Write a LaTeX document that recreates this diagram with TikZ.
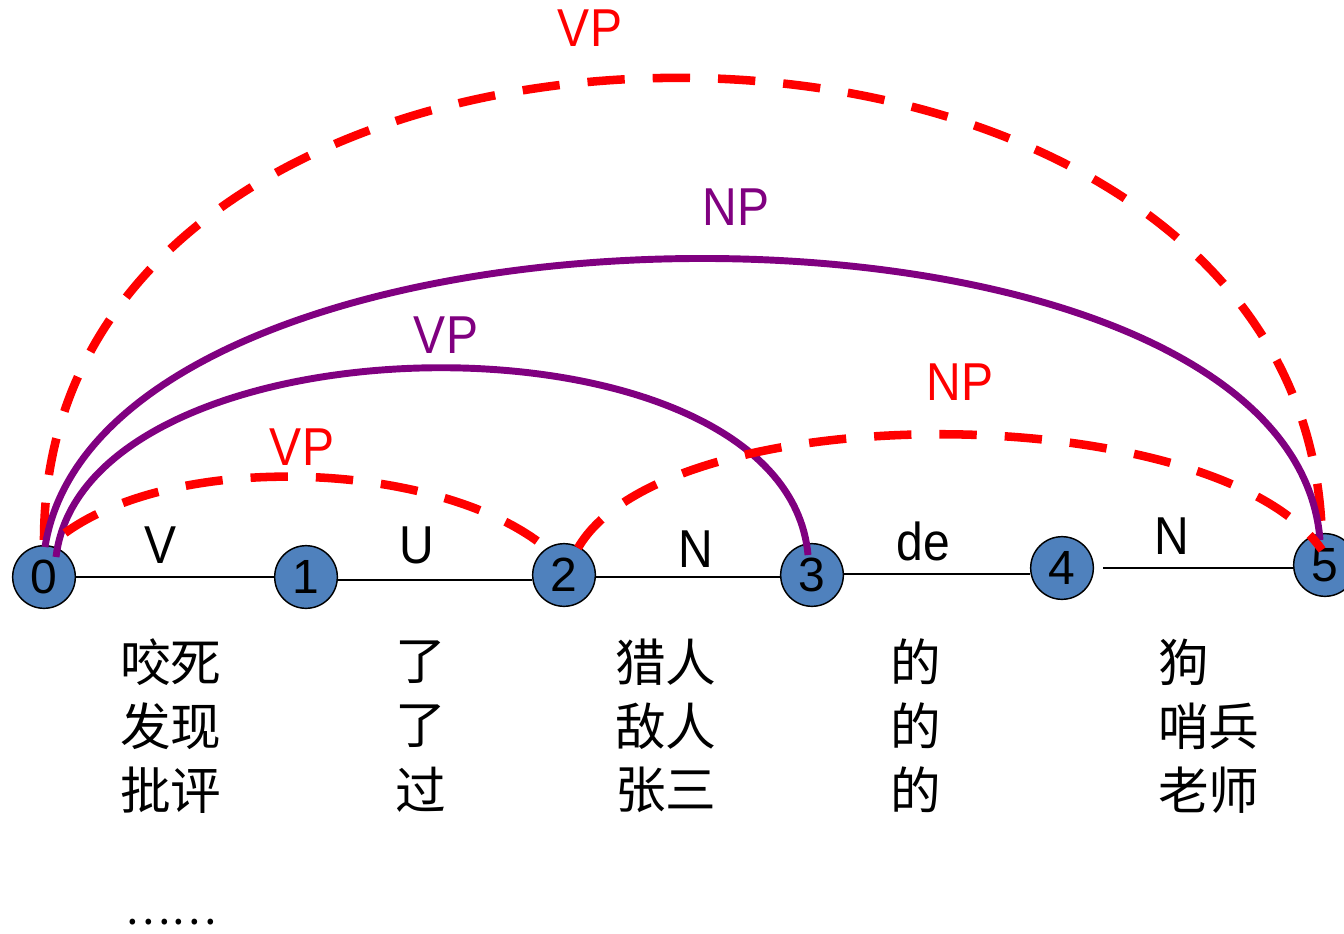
\documentclass[tikz,border=0pt]{standalone}
\usepackage{fontspec}
\usetikzlibrary{calc}
\newfontfamily\labfont[FakeStretch=0.9]{Liberation Sans}
\newfontfamily\numfont{Liberation Sans}
\newfontfamily\cjk{Noto Sans CJK SC}
\definecolor{nodeblue}{HTML}{4F81BD}
\definecolor{arcpurple}{HTML}{800080}
\begin{document}
\begin{tikzpicture}[x=0.75pt,y=-0.75pt,
  state/.style={circle,draw=black,line width=1.1pt,fill=nodeblue,minimum size=47pt,inner sep=0pt,
    font=\numfont\fontsize{36}{40}\selectfont},
  edge/.style={draw=black,line width=2pt},
  edgelabel/.style={anchor=base,inner sep=0pt,font=\labfont\fontsize{40}{44}\selectfont},
  redarc/.style={draw=red,line width=6.4pt,dash pattern=on 28pt off 21pt},
  purplearc/.style={draw=arcpurple,line width=5.2pt},
  redlabel/.style={anchor=base,inner sep=0pt,text=red,font=\labfont\fontsize{40}{44}\selectfont},
  purplelabel/.style={anchor=base,inner sep=0pt,text=arcpurple,font=\labfont\fontsize{40}{44}\selectfont},
  word/.style={anchor=west,inner sep=0pt,font=\cjk\fontsize{38}{46}\selectfont}]
\useasboundingbox (0,0) rectangle (1344,934);

% chart positions
\coordinate (p0) at (44,577);
\coordinate (p1) at (306,577);
\coordinate (p2) at (564,575);
\coordinate (p3) at (812,575);
\coordinate (p4) at (1062,568);
\coordinate (p5) at (1325,565);

% chart states
\node[state] (n0) at (p0) {0};
\node[state] (n1) at (p1) {1};
\node[state] (n2) at (p2) {2};
\node[state] (n3) at (p3) {3};
\node[state] (n4) at (p4) {4};
\node[state] (n5) at (p5) {5};

% word edges between neighbouring states
\draw[edge] (n0.east) -- (n1.west);
\draw[edge] ($(n1.east)+(0,3)$) -- ($(n2.west)+(0,5)$);
\draw[edge] ($(n2.east)+(0,2)$) -- ($(n3.west)+(0,2)$);
\draw[edge] ($(n3.east)+(0,-1)$) -- ($(n4.west)+(0,6)$);
\draw[edge,shorten <=7pt] (n4.east) -- ($(n5.west)+(0,3)$);

% edge categories
\node[edgelabel] (lv) at (161,563) {V};
\node[edgelabel] (lu) at (417,563) {U};
\node[edgelabel] (ln) at (696,567) {N};
\node[edgelabel] (lde) at (923,560) {de};
\node[edgelabel] (ln2) at (1172,554) {N};

% phrase arcs
\draw[redarc] ($(n0)+(0,-37)$) .. controls +(0,-620) and +(0,-623) .. ($(n5)+(-3,-17)$);
\draw[purplearc] ($(n0)+(1,-30)$) .. controls +(60,-380) and +(-30,-380) .. ($(n5)+(-5,-25)$);
\draw[purplearc] ($(n0)+(12,-20)$) .. controls +(30,-247) and +(-23,-255) .. ($(n3)+(-4,-20)$);
\draw[redarc] ($(n0)+(21,-44)$) .. controls +(115,-83) and +(-105,-85) .. ($(n2)+(-19,-28)$);
\draw[redarc] ($(n2)+(14,-27)$) .. controls +(88,-153) and +(-107,-153) .. ($(n5)+(-3,-15)$);

% arc labels
\node[redlabel] (tvp) at (590,47) {VP};
\node[purplelabel] (tnp) at (736,226) {NP};
\node[purplelabel] (tvp2) at (446,353) {VP};
\node[redlabel] (tvp3) at (302,465) {VP};
\node[redlabel] (tnp2) at (960,400) {NP};

% candidate words
\node[word] (w11) at (120,662) {咬死};
\node[word] (w12) at (120,726) {发现};
\node[word] (w13) at (120,790) {批评};
\node[word] (w21) at (395,662) {了};
\node[word] (w22) at (395,726) {了};
\node[word] (w23) at (395,790) {过};
\node[word] (w31) at (615,662) {猎人};
\node[word] (w32) at (615,726) {敌人};
\node[word] (w33) at (615,790) {张三};
\node[word] (w41) at (890,662) {的};
\node[word] (w42) at (890,726) {的};
\node[word] (w43) at (890,790) {的};
\node[word] (w51) at (1158,662) {狗};
\node[word] (w52) at (1158,726) {哨兵};
\node[word] (w53) at (1158,790) {老师};
\node[inner sep=0pt,font=\cjk\fontsize{32}{36}\selectfont] (more) at (171,922) {……};
\end{tikzpicture}
\end{document}
